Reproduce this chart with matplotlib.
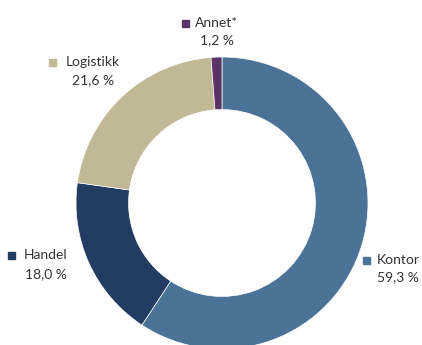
import matplotlib.pyplot as plt
from matplotlib.patches import Rectangle

# andel av portefølje per segment (%)
segmenter = ["Kontor", "Handel", "Logistikk", "Annet*"]
andeler = [59.3, 18.0, 21.6, 1.2]
farger = ["#4b7397", "#223c62", "#c1b896", "#5a3468"]

# plassering av etiketter i piksler (firkant venstre kant, tekst midtpunkt, navn-y, prosent-y)
etikett_pos = {
    "Kontor": (363, 398, 260, 277),
    "Handel": (8, 46, 255, 274),
    "Logistikk": (49, 93, 62, 80),
    "Annet*": (182, 217, 23, 40),
}

W, H = 422, 345
fig = plt.figure(figsize=(W / 100, H / 100), dpi=100)

cx, cy, r = 222, 203, 146
ax = fig.add_axes([(cx - r) / W, 1 - (cy + r) / H, 2 * r / W, 2 * r / H])
ax.pie(andeler, colors=farger, startangle=90, counterclock=False, radius=1,
       wedgeprops=dict(width=0.36, edgecolor="white", linewidth=0.5))
ax.set_xlim(-1, 1)
ax.set_ylim(-1, 1)
ax.axis("off")


def fx(x):
    return x / W


def fy(y):
    return 1 - y / H


for navn, verdi, farge in zip(segmenter, andeler, farger):
    sx, tx, ny, py = etikett_pos[navn]
    fig.patches.append(Rectangle((fx(sx), fy(ny + 4)), 7 / W, 7 / H,
                                 transform=fig.transFigure, color=farge))
    fig.text(fx(tx), fy(ny), navn, ha="center", va="center",
             fontsize=10, family="Lato", color="#333333")
    pst = f"{verdi:.1f}".replace(".", ",") + " %"
    fig.text(fx(tx), fy(py), pst, ha="center", va="center",
             fontsize=10, family="Lato", color="#333333")

fig.savefig("out.png", dpi=100)
